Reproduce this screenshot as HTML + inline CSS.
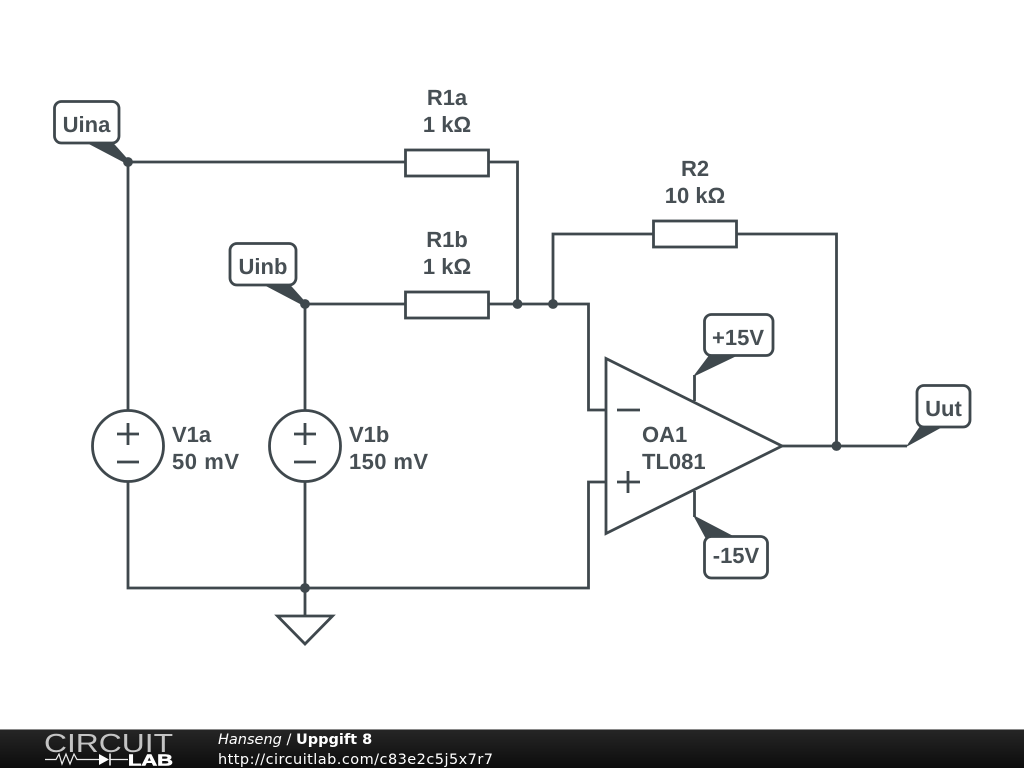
<!DOCTYPE html>
<html><head><meta charset="utf-8"><style>
html,body{margin:0;padding:0;background:#fff}
body{width:1024px;height:768px;overflow:hidden;position:relative}
svg{position:absolute;left:0;top:0}
.t{font-family:"Liberation Sans",sans-serif;font-weight:bold;font-size:22px;fill:#474f54;text-rendering:geometricPrecision}
.m{text-anchor:middle}
.f{font-family:"DejaVu Sans",sans-serif;font-size:14.5px;fill:#fff}
</style></head><body>
<svg width="1024" height="768" viewBox="0 0 1024 768">
<defs><linearGradient id="g" x1="0" y1="0" x2="0" y2="1"><stop offset="0" stop-color="#262626"/><stop offset="1" stop-color="#0c0c0c"/></linearGradient></defs>
<g fill="none" stroke="#3f484d" stroke-width="2.8">
<path d="M128 162H405M488 162H517.500V304M128 162V410M128 482V588H588.500V482H606M305 304V410M305 482V616M305 304H405M488 304H588.500V410H606M553 304V234H653M736 234H836.500V446M782 446H907"/>
<rect x="405.500" y="150" width="83" height="26"/>
<rect x="405.500" y="292" width="83" height="26"/>
<rect x="653.500" y="221" width="83" height="26"/>
<circle cx="128" cy="446" r="35.500"/>
<circle cx="305" cy="446" r="35.500"/>
<path d="M117 434H139M128 423V445M117 462H139M294 434H316M305 423V445M294 462H316"/>
<path d="M277.500 616H332.500L305 644Z"/>
<path d="M606 358.500L782 446L606 533.500Z"/>
<path d="M617 410H640M617 482H640M628 471V493"/>
<path d="M694.500 401V375M694.500 491V517"/>
</g>
<g fill="#3f484d" stroke="#3f484d" stroke-width=".8">
<circle cx="128" cy="162" r="4.500"/><circle cx="305" cy="304" r="4.500"/><circle cx="517.500" cy="304" r="4.500"/><circle cx="553" cy="304" r="4.500"/><circle cx="836.500" cy="446" r="4.500"/><circle cx="305" cy="588" r="4.500"/>
<path d="M84 141H111L128 160L124 162Z"/>
<path d="M261 283H288L305 302L301 304Z"/>
<path d="M694 376L712 352H744Z"/>
<path d="M694 516L707 540H740Z"/>
<path d="M907 446L922 424H947Z"/>
</g>
<g fill="#fff" stroke="#3f484d" stroke-width="2.800">
<rect x="54.500" y="101.500" width="64.500" height="41.500" rx="7"/>
<rect x="230" y="243.500" width="66" height="41.500" rx="7"/>
<rect x="704.500" y="314.500" width="68.500" height="41" rx="7"/>
<rect x="704.500" y="536.500" width="63" height="41.500" rx="7"/>
<rect x="917" y="385.500" width="53" height="41.500" rx="7"/>
</g>
<text class="t m" x="86.500" y="132">Uina</text>
<text class="t m" x="263" y="274">Uinb</text>
<text class="t m" x="738" y="345">+15V</text>
<text class="t m" x="736" y="563">-15V</text>
<text class="t m" x="943.500" y="416">Uut</text>
<text class="t m" x="447" y="105">R1a</text>
<text class="t m" x="447" y="132">1 kΩ</text>
<text class="t m" x="447" y="247">R1b</text>
<text class="t m" x="447" y="274">1 kΩ</text>
<text class="t m" x="695" y="176">R2</text>
<text class="t m" x="695" y="203">10 kΩ</text>
<text class="t" x="172" y="442">V1a</text>
<text class="t" x="172" y="469" textLength="67">50 mV</text>
<text class="t" x="349" y="442">V1b</text>
<text class="t" x="349" y="469" textLength="79">150 mV</text>
<text class="t" x="642" y="442">OA1</text>
<text class="t" x="642" y="469">TL081</text>
<rect x="0" y="729" width="1024" height="39" fill="url(#g)"/>
<rect x="0" y="729" width="1024" height="1" fill="#8a8a8a"/>
<text x="44" y="752" font-family="'Liberation Sans',sans-serif" font-size="26" fill="#c4c4c4" textLength="129" lengthAdjust="spacingAndGlyphs">CIRCUIT</text>
<path d="M45 759.500H56L59 754L62 764L66 754L70 764L74 754L77 759.500H99M110 759.500H128" fill="none" stroke="#eee" stroke-width="1.200"/>
<path d="M99 754V765L109 759.500Z" fill="#fff"/><path d="M110 753.500V765.500" stroke="#fff" stroke-width="1.500"/>
<text x="128" y="765.500" font-family="'Liberation Sans',sans-serif" font-weight="bold" font-size="16" fill="#fff" stroke="#fff" stroke-width=".6" textLength="45" lengthAdjust="spacingAndGlyphs">LAB</text>
<text class="f" x="218" y="744"><tspan font-style="italic">Hanseng</tspan> / <tspan font-weight="bold">Uppgift 8</tspan></text>
<text class="f" x="218" y="764" textLength="275">http://circuitlab.com/c83e2c5j5x7r7</text>
</svg>
</body></html>
